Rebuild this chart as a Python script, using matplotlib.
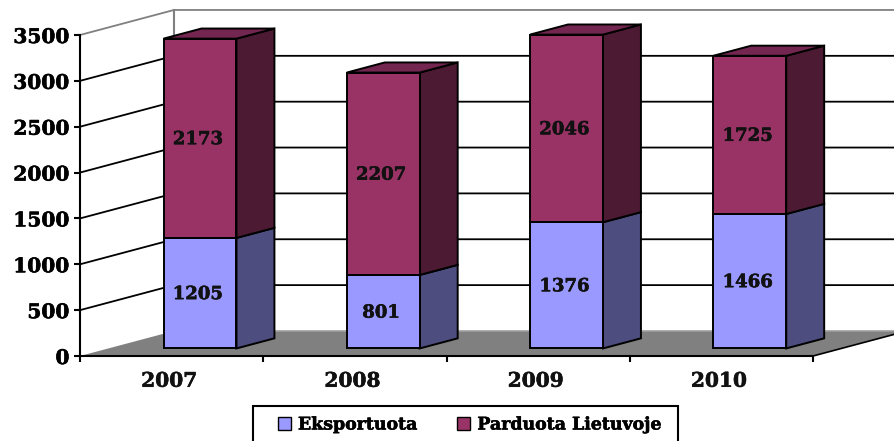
import matplotlib
matplotlib.use('Agg')
import matplotlib.pyplot as plt
import matplotlib.patheffects as pe
from matplotlib.patches import Polygon, Patch, Rectangle
from matplotlib.text import Text

years = ['2007', '2008', '2009', '2010']
eksportuota = [1205, 801, 1376, 1466]
parduota = [2173, 2207, 2046, 1725]
y_ticks = [0, 500, 1000, 1500, 2000, 2500, 3000, 3500]

# spalvos: priekis, šonas, viršus
blue = ('#9999FF', '#4D4D80', '#7373BF')
plum = ('#993366', '#4D1A33', '#732650')

W, H = 894, 441
wall_z = 0.513    # sienos gylis (kategorijomis)
rise = 532        # kiek vienetų kyla per vieną gylio vienetą
bar_w = 0.398
bar_z0 = 0.155
bar_z1 = 0.362

plt.rcParams['font.family'] = 'DejaVu Serif'
plt.rcParams['font.weight'] = 'bold'

fig = plt.figure(figsize=(W / 100, H / 100), dpi=100)
ax = fig.add_axes([80 / W, (H - 356) / H, 733 / W, 321 / H])
ax.set_xlim(0, 4)
ax.set_ylim(0, 3500)


def pr(x, v, z):
    return (x + z, v + z * rise)


def poly(pts, **kw):
    kw.setdefault('clip_on', False)
    p = Polygon(pts, closed=True, **kw)
    ax.add_patch(p)
    return p


# grindys
poly([pr(0, 0, 0), pr(4, 0, 0), pr(4, 0, wall_z), pr(0, 0, wall_z)],
     fc='#808080', ec='none', zorder=1)
ax.plot([pr(0, 0, wall_z)[0], pr(4, 0, wall_z)[0]], [pr(0, 0, wall_z)[1]] * 2,
        color='#A0A0A0', lw=1.2, clip_on=False, zorder=1.1)
ax.plot(*zip(pr(4, 0, 0), pr(4, 0, wall_z)), color='black', lw=1.2, clip_on=False, zorder=1.1)

# tinklelis
for v in y_ticks[1:]:
    color = '#808080' if v == 3500 else 'black'
    pts = [pr(0, v, 0), pr(0, v, wall_z), pr(4, v, wall_z)]
    ax.plot(*zip(*pts), color=color, lw=1.3, clip_on=False, zorder=0.5)
ax.plot(*zip(pr(0, 0, wall_z), pr(0, 3500, wall_z)), color='#808080', lw=1.5,
        clip_on=False, zorder=0.6)

# stulpeliai
for i, (a, b) in enumerate(zip(eksportuota, parduota)):
    x0 = i + 0.5 - bar_w / 2
    x1 = x0 + bar_w
    bottom = 0
    for val, cols in ((a, blue), (b, plum)):
        top = bottom + val
        poly([pr(x1, bottom, bar_z0), pr(x1, bottom, bar_z1), pr(x1, top, bar_z1), pr(x1, top, bar_z0)],
             fc=cols[1], ec='black', lw=1.4, zorder=3)
        poly([pr(x0, bottom, bar_z0), pr(x1, bottom, bar_z0), pr(x1, top, bar_z0), pr(x0, top, bar_z0)],
             fc=cols[0], ec='black', lw=1.4, zorder=3)
        cx, cy = pr((x0 + x1) / 2, (bottom + top) / 2, bar_z0)
        ax.text(cx - 0.012, cy - 10, str(val), ha='center', va='center', fontsize=13,
                color='#111111', zorder=4)
        bottom = top
    poly([pr(x0, bottom, bar_z0), pr(x1, bottom, bar_z0), pr(x1, bottom, bar_z1), pr(x0, bottom, bar_z1)],
         fc=plum[2], ec='black', lw=1.4, zorder=3)

ax.set_xticks(range(5))
ax.set_xticklabels([''] * 5)
for i, y in enumerate(years):
    ax.text(i + 0.487, -270, y, ha='center', va='center', fontsize=14.5, color='#111111')
ax.set_yticks(y_ticks)
ax.tick_params(axis='y', length=4, width=1.5, labelsize=14.5, pad=3.5)
ax.tick_params(axis='x', length=4, width=1.5)
for s in ('top', 'right'):
    ax.spines[s].set_visible(False)
for s in ('left', 'bottom'):
    ax.spines[s].set_linewidth(1.5)
    ax.spines[s].set_zorder(2)
ax.patch.set_visible(False)

# legendos rėmas eina už paveikslo apačios
fig.add_artist(Rectangle((253 / W, -5 / H), 425 / W, 40 / H, transform=fig.transFigure,
                         fc='white', ec='black', lw=1.5, zorder=5))
handles = [Patch(fc=blue[0], ec='black', lw=1.0), Patch(fc=plum[0], ec='black', lw=1.0)]
leg = fig.legend(handles, ['Eksportuota', 'Parduota Lietuvoje'], ncol=2, loc='center',
                 bbox_to_anchor=(470 / W, (H - 425) / H), fontsize=12.5, frameon=False,
                 handlelength=0.75, handleheight=0.75, handletextpad=0.4,
                 columnspacing=2.3, borderpad=0)
leg.set_zorder(6)

# raidės originale storesnės
for t in fig.findobj(Text):
    t.set_path_effects([pe.withStroke(linewidth=0.4, foreground=t.get_color())])

fig.savefig('out.png', dpi=100)
